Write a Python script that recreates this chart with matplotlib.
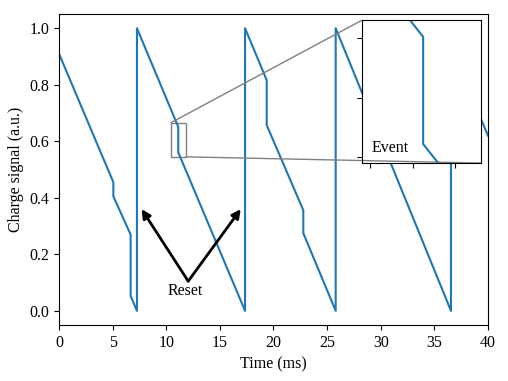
import numpy as np
import matplotlib.pyplot as plt
from mpl_toolkits.axes_grid1.inset_locator import mark_inset

plt.rcParams['font.family'] = ['Liberation Serif', 'DejaVu Serif']
plt.rcParams['font.size'] = 11.5

# breakpoints of the charge signal (time in ms, signal in a.u.)
time = [0.0, 5.07, 5.07, 6.68, 6.68, 7.27, 7.27,
        11.12, 11.12, 17.35, 17.35,
        19.37, 19.37, 22.78, 22.78, 25.8, 25.8,
        36.55, 36.55, 38.0, 38.0, 40.0]
signal = [0.91, 0.455, 0.405, 0.27, 0.053, 0.0, 1.0,
          0.651, 0.561, 0.0, 1.0,
          0.816, 0.657, 0.356, 0.275, 0.0, 1.0,
          0.0, 1.0, 0.87, 0.80, 0.62]

reset_tips = [(7.7, 0.36), (16.95, 0.36)]
reset_base = (12.05, 0.105)
zoom_x = (10.4, 11.8)
zoom_y = (0.545, 0.665)

fig = plt.figure(figsize=(5.08, 3.81), dpi=100)
ax = fig.add_axes([0.1161, 0.147, 0.9606 - 0.1161, 0.963 - 0.147])
ax.plot(time, signal, color='C0', lw=1.5)
ax.set_xlim(0, 40)
ax.set_ylim(-0.05, 1.05)
ax.set_xlabel('Time (ms)')
ax.set_ylabel('Charge signal (a.u.)')

for tip in reset_tips:
    ax.annotate('', xy=tip, xytext=reset_base,
                arrowprops=dict(arrowstyle='-|>', color='black', lw=2,
                                mutation_scale=13, shrinkA=0, shrinkB=0))
ax.text(11.75, 0.07, 'Reset', ha='center', va='center')

# zoomed view of one event
axins = fig.add_axes([0.7126, 0.572, 0.234, 0.375])
axins.plot(time, signal, color='C0', lw=1.5)
axins.set_xlim(*zoom_x)
axins.set_ylim(*zoom_y)
axins.set_xticks([10.5, 11.0, 11.5])
axins.set_yticks([0.55, 0.60, 0.65])
axins.set_xticklabels([])
axins.set_yticklabels([])
axins.text(0.08, 0.107, 'Event', transform=axins.transAxes, va='center')
mark_inset(ax, axins, loc1=2, loc2=4, fc='none', ec='0.5')

fig.savefig('out.png', dpi=100)
